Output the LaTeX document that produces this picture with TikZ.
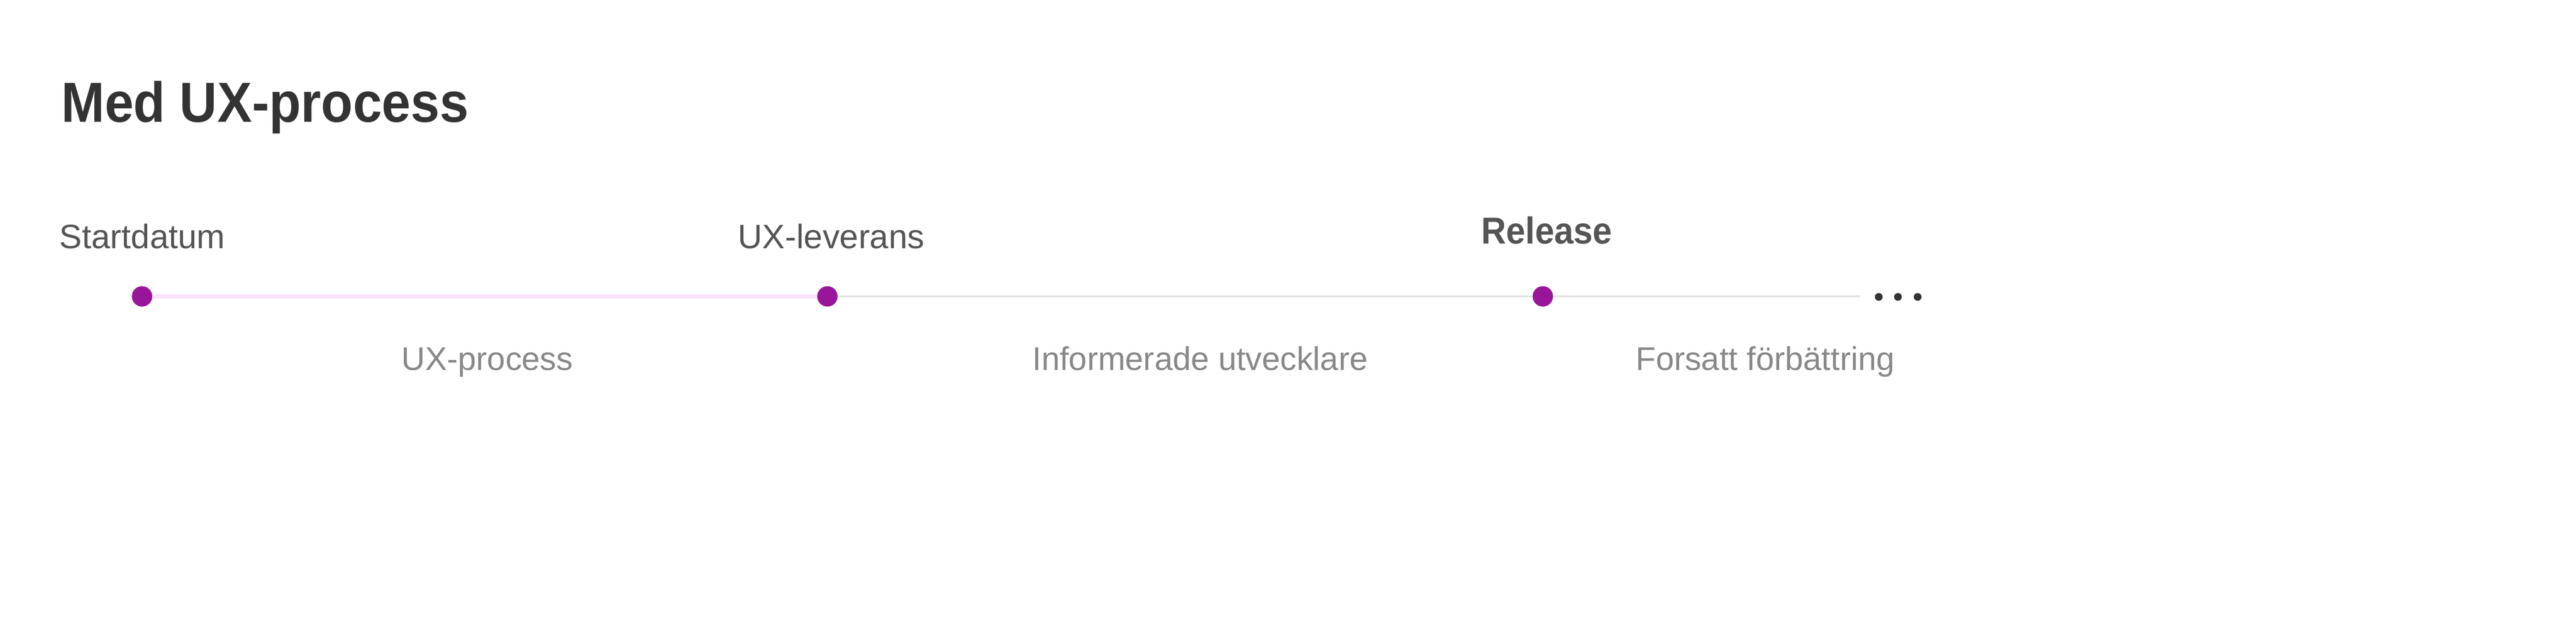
\documentclass[tikz,border=0pt]{standalone}
\usepackage{fontspec}
\setmainfont{Liberation Sans}
\newfontfamily\headfont[FakeStretch=0.92]{Liberation Sans}
\definecolor{titlegray}{HTML}{333333}
\definecolor{labelgray}{HTML}{555555}
\definecolor{phasegray}{HTML}{888888}
\definecolor{dotpurple}{HTML}{99169A}
\definecolor{uxpink}{HTML}{FDE2FD}
\definecolor{linegray}{HTML}{E3E3E3}
\begin{document}
\begin{tikzpicture}[
  milestone/.style={circle, fill=dotpurple, inner sep=0pt, minimum size=0.394cm},
  toplabel/.style={anchor=base west, inner sep=0pt, text=labelgray, font=\fontsize{18.6}{22}\selectfont},
  phaselabel/.style={anchor=base, inner sep=0pt, text=phasegray, font=\fontsize{18}{22}\selectfont}
]
\useasboundingbox (0,0) rectangle (49.69,12.38);
% title
\node [anchor=base west, inner sep=0pt, text=titlegray, font=\headfont\bfseries\fontsize{31}{36}\selectfont] (title) at (1.18,10.02) {Med UX-process};

% nodes
\node [milestone] (start) at (2.74,6.66) {};
\node [milestone] (uxdel) at (15.96,6.66) {};
\node [milestone] (release) at (29.76,6.66) {};
\coordinate (lineend) at (35.88,6.66);

\draw [uxpink, line width=0.08cm] (start) -- (uxdel);
\draw [linegray, line width=0.04cm] (uxdel) -- (release) -- (lineend);

\foreach \x in {36.24,36.61,36.99}
  \fill [titlegray] (\x,6.65) circle (0.075);

\node [toplabel] (startlbl) at (1.14,7.58) {Startdatum};
\node [toplabel] (uxdellbl) at (14.23,7.58) {UX-leverans};
\node [toplabel, font=\headfont\bfseries\fontsize{20.6}{24}\selectfont, text=labelgray] (releaselbl) at (28.57,7.67) {Release};

\node [phaselabel] (uxproc) at (9.40,5.23) {UX-process};
\node [phaselabel] (devs) at (23.15,5.23) {Informerade utvecklare};
\node [phaselabel] (improve) at (34.05,5.23) {Forsatt förbättring};

\end{tikzpicture}
\end{document}
